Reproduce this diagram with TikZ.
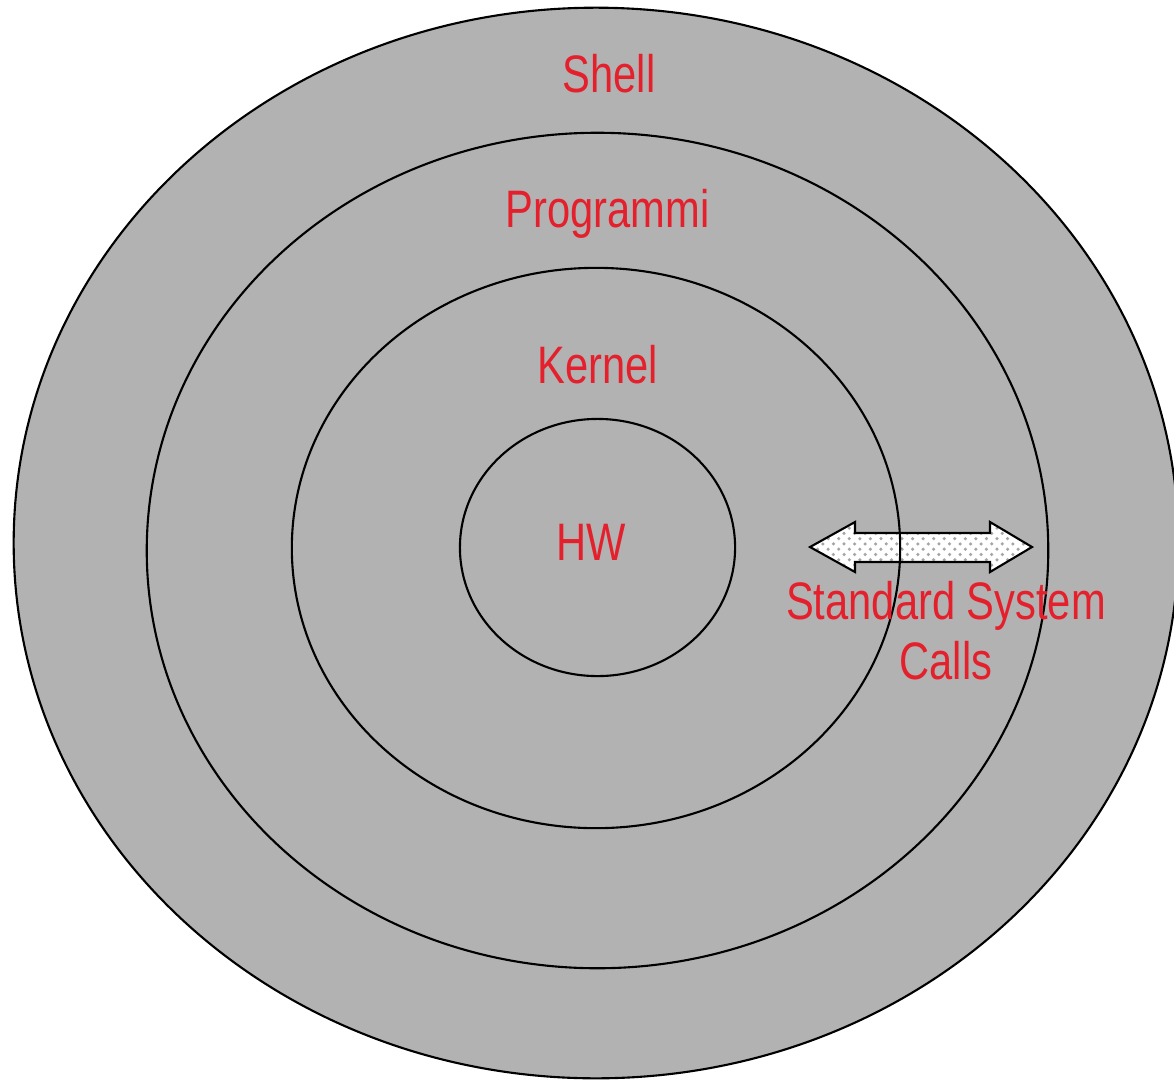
\documentclass[tikz,border=0pt]{standalone}
\usepackage{fontspec}
\usepackage{tikz}
\usetikzlibrary{shapes.geometric, patterns}
\newfontfamily\labelfont[FakeStretch=0.79]{Liberation Sans}
\definecolor{ringgray}{RGB}{178,178,178}
\definecolor{lblred}{RGB}{228,32,44}

\begin{document}
\begin{tikzpicture}[x=0.01cm, y=-0.01cm, line width=0.6pt,
        ring/.style={ellipse, draw=black, inner sep=0pt, outer sep=0pt},
        lbl/.style={text=lblred, inner sep=0pt, anchor=base,
            font=\labelfont\fontsize{15}{17}\selectfont}]
        \useasboundingbox (0,0) rectangle (1174,1082);

        % Anello esterno (riempito)
        \node[ring, fill=ringgray, minimum width=11.64cm, minimum height=10.70cm] (shellring) at (596,543) {};

        % Freccia doppia
        \draw[pattern=crosshatch dots, pattern color=gray!70, preaction={fill=white}]
            (810,547) -- (855,522) -- (855,533) -- (990,533) -- (990,522) -- (1032,547)
            -- (990,572) -- (990,562) -- (855,562) -- (855,572) -- cycle;

        % Anelli interni
        \node[ring, minimum width=9.01cm, minimum height=8.35cm] (progring) at (597.5,550.5) {};
        \node[ring, minimum width=6.08cm, minimum height=5.60cm] (kernelring) at (596,548) {};
        \node[ring, minimum width=2.75cm, minimum height=2.57cm] (hwring) at (597.5,547.5) {};

        % Etichette
        \node[lbl] (shell) at (609,93) {Shell};
        \node[lbl] (prog) at (607.5,227) {Programmi};
        \node[lbl] (kernel) at (597.5,383) {Kernel};
        \node[lbl] (hw) at (591.5,560) {HW};
        \node[lbl, align=center, anchor=north] (syscalls) at (946,580) {Standard System\\Calls};
    \end{tikzpicture}
\end{document}
